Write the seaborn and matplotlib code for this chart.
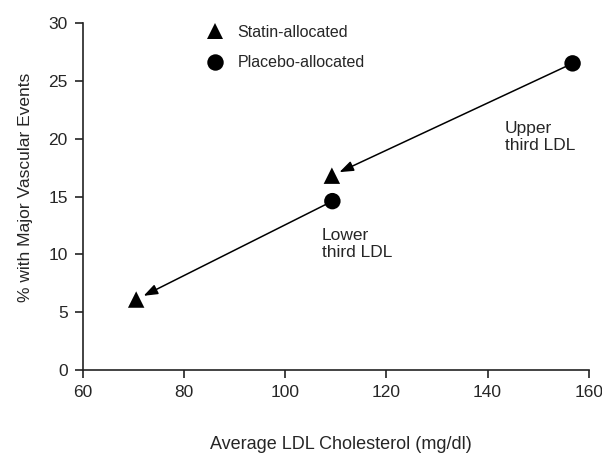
import pandas as pd
import matplotlib
matplotlib.use('Agg')
import matplotlib.pyplot as plt
import seaborn as sns

# values
groups = ['Statin-allocated', 'Statin-allocated', 'Placebo-allocated', 'Placebo-allocated']
thirds = ['Lower', 'Upper', 'Lower', 'Upper']
ldl = [70.5, 109.2, 109.3, 156.8]
events = [6.1, 16.8, 14.6, 26.5]
x_ticks = [60, 80, 100, 120, 140, 160]
y_ticks = [0, 5, 10, 15, 20, 25, 30]

df = pd.DataFrame({'group': groups, 'third': thirds, 'ldl': ldl, 'events': events})

sns.set_style('ticks')
plt.rcParams['font.family'] = ['Liberation Sans', 'DejaVu Sans']

fig = plt.figure(figsize=(6.02, 4.57), dpi=100)
ax = fig.add_axes([0.138, 0.19, 0.84, 0.76])

sns.scatterplot(data=df, x='ldl', y='events', hue='group', style='group',
                markers={'Statin-allocated': '^', 'Placebo-allocated': 'o'},
                palette={'Statin-allocated': 'black', 'Placebo-allocated': 'black'},
                hue_order=['Statin-allocated', 'Placebo-allocated'],
                s=140, edgecolor='black', linewidth=0, ax=ax, zorder=3)

# arrows from placebo to statin within each third
for t in ['Upper', 'Lower']:
    p = df[(df.third == t) & (df.group == 'Placebo-allocated')].iloc[0]
    s = df[(df.third == t) & (df.group == 'Statin-allocated')].iloc[0]
    ax.annotate('', xy=(s.ldl, s.events), xytext=(p.ldl, p.events),
                arrowprops=dict(arrowstyle='-|>,head_length=0.6,head_width=0.22',
                                color='black', lw=1.1,
                                mutation_scale=14, shrinkA=5, shrinkB=6))

ax.text(143.4, 21.5, 'Upper\nthird LDL', fontsize=12.5, va='top', ha='left', linespacing=1.15)
ax.text(107.2, 12.3, 'Lower\nthird LDL', fontsize=12.5, va='top', ha='left', linespacing=1.15)

ax.set_xlim(60, 160)
ax.set_ylim(0, 30)
ax.set_xticks(x_ticks)
ax.set_yticks(y_ticks)
ax.tick_params(labelsize=12.5, length=6, width=1.2, direction='out', color='#222222', pad=5)
ax.set_xlabel('Average LDL Cholesterol (mg/dl)', fontsize=13)
ax.set_ylabel('% with Major Vascular Events', fontsize=12.5)
ax.xaxis.set_label_coords(0.51, -0.19)
ax.yaxis.set_label_coords(-0.1, 0.527)
for sp in ['left', 'bottom']:
    ax.spines[sp].set_linewidth(1.2)
    ax.spines[sp].set_color('#222222')
sns.despine(ax=ax)

leg = ax.legend(loc='upper left', bbox_to_anchor=(0.2, 1.035), frameon=False,
                fontsize=11.5, handletextpad=0.45, labelspacing=0.95, markerscale=1.0)

fig.savefig('out.png', dpi=100)
